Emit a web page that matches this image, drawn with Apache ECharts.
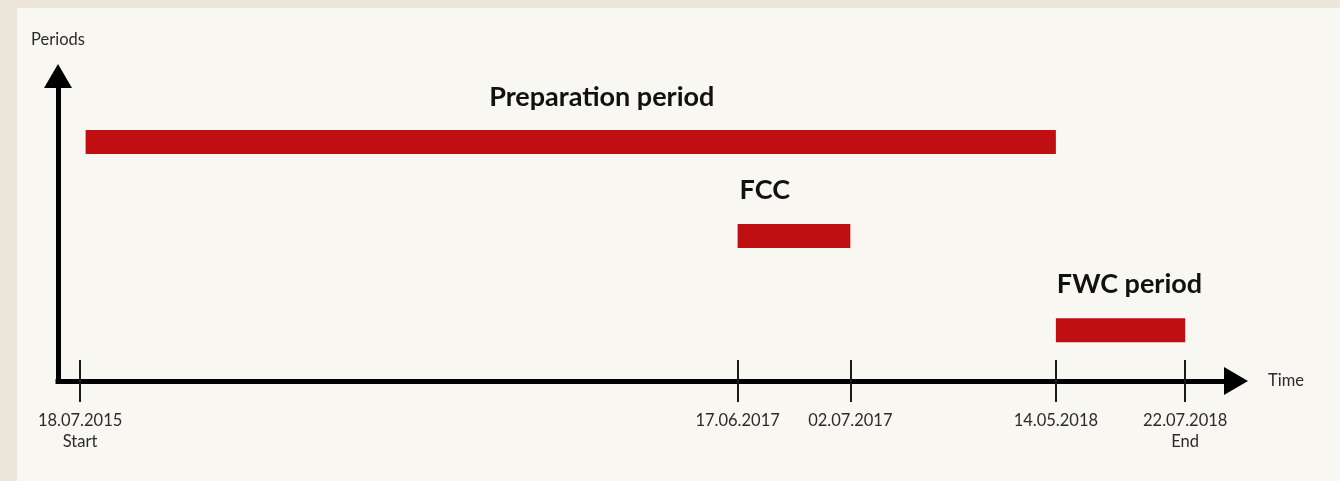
<!DOCTYPE html>
<html><head><meta charset="utf-8">
<script src="https://cdn.jsdelivr.net/npm/echarts@6/dist/echarts.min.js"></script>
<style>html,body{margin:0;padding:0;background:#ede6da;} #c{width:1340px;height:481px;}</style>
</head><body><div id="c"></div>
<script>
// Schematic timeline (not to scale): positions in schematic units, 0 = start, 100 = end
const periodNames = ['Preparation period', 'FCC', 'FWC period'];
const periodStart = [0.5, 59.5, 88.3];
const periodEnd = [88.3, 69.7, 100];
const periodLane = [2, 1, 0];
const tickPos = [0, 59.5, 69.7, 88.3, 100];
const tickLabels = ['18.07.2015\nStart', '17.06.2017', '02.07.2017', '14.05.2018', '22.07.2018\nEnd'];

const FONT = 'Lato';
const labelLayout = [
  { align: 'center', anchor: 'middle', dx: 31, dy: -45 },
  { align: 'left', anchor: 'start', dx: 2, dy: -46 },
  { align: 'left', anchor: 'start', dx: 1, dy: -46 }
];

const chart = echarts.init(document.getElementById('c'), null, { renderer: 'canvas' });
const axisLineStyle = { color: '#000', width: 5, cap: 'square' };

chart.setOption({
  animation: false,
  backgroundColor: '#ede6da',
  textStyle: { fontFamily: FONT },
  graphic: [{
    type: 'rect', left: 17, top: 8, z: -10, silent: true,
    shape: { width: 1323, height: 473 },
    style: { fill: '#f8f7f2' }
  }],
  grid: { left: 58, right: 104, top: 76, bottom: 100, containLabel: false, outerBoundsMode: 'none' },
  xAxis: [{
    type: 'value', min: -2, max: 104.6, position: 'bottom',
    name: 'Time', nameLocation: 'end', nameGap: 32,
    nameTextStyle: { fontFamily: FONT, fontSize: 16.5, color: '#2b2b2b', verticalAlign: 'middle', padding: [6, 0, 0, 0] },
    axisLine: { show: true, onZero: false, symbol: ['none', 'triangle'], symbolSize: [28, 24], lineStyle: axisLineStyle },
    axisTick: { show: true, inside: true, length: 21, customValues: tickPos, lineStyle: { color: '#1a1a1a', width: 2 } },
    axisLabel: { show: false },
    splitLine: { show: false }
  }, {
    type: 'value', min: -2, max: 104.6, position: 'bottom',
    axisLine: { show: false, onZero: false },
    axisTick: { show: true, inside: false, length: 21, customValues: tickPos, lineStyle: { color: '#1a1a1a', width: 2 } },
    axisLabel: {
      show: true, customValues: tickPos, margin: 29,
      fontFamily: FONT, fontSize: 16.5, lineHeight: 21, color: '#2b2b2b', align: 'center',
      formatter: function (v) {
        let best = 0;
        for (let i = 1; i < tickPos.length; i++) if (Math.abs(tickPos[i] - v) < Math.abs(tickPos[best] - v)) best = i;
        return tickLabels[best];
      }
    },
    splitLine: { show: false }
  }],
  yAxis: {
    type: 'value', min: -0.54, max: 2.7,
    name: 'Periods', nameLocation: 'end', nameGap: 28,
    nameTextStyle: { fontFamily: FONT, fontSize: 16.5, color: '#2b2b2b' },
    axisLine: { show: true, onZero: false, symbol: ['none', 'triangle'], symbolSize: [28, 24], lineStyle: axisLineStyle },
    axisTick: { show: false },
    axisLabel: { show: false },
    splitLine: { show: false }
  },
  series: [{
    type: 'custom',
    xAxisIndex: 0, yAxisIndex: 0,
    clip: false,
    encode: { x: [0, 1], y: 2 },
    data: periodNames.map((n, i) => [periodStart[i], periodEnd[i], periodLane[i]]),
    renderItem: function (params, api) {
      const i = params.dataIndex;
      const s = api.coord([api.value(0), api.value(2)]);
      const e = api.coord([api.value(1), api.value(2)]);
      const h = 24;
      const L = labelLayout[i];
      const tx = (L.anchor === 'middle' ? (s[0] + e[0]) / 2 : s[0]) + L.dx;
      return {
        type: 'group',
        children: [{
          type: 'rect',
          shape: { x: s[0], y: s[1] - h / 2, width: e[0] - s[0], height: h },
          style: { fill: '#c00f12' }
        }, {
          type: 'text',
          x: tx, y: s[1] + L.dy,
          style: {
            text: periodNames[i], fill: '#111',
            font: 'bold 27px ' + FONT,
            align: L.align, verticalAlign: 'middle'
          }
        }]
      };
    }
  }]
});
</script></body></html>
